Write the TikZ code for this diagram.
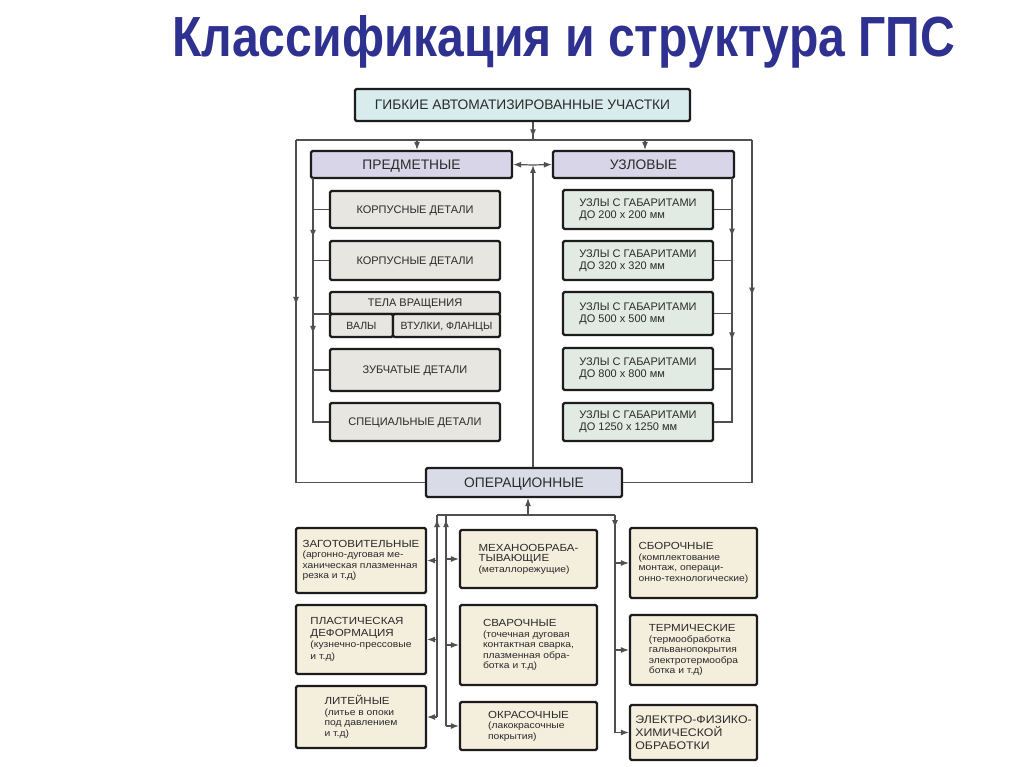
\documentclass[tikz,border=0pt]{standalone}
\usepackage{fontspec}
\setmainfont{Liberation Sans}
\newfontfamily\bfont[FakeStretch=1.12]{Liberation Sans}
\usetikzlibrary{arrows.meta,decorations.markings}
\definecolor{titleblue}{HTML}{2E3190}
\definecolor{boxline}{HTML}{1C1C1C}
\definecolor{txt}{HTML}{2A2A2A}
\definecolor{lineg}{HTML}{505050}
\definecolor{topfill}{HTML}{D8ECEE}
\definecolor{catfill}{HTML}{D9D5E8}
\definecolor{lfill}{HTML}{E7E6E1}
\definecolor{rfill}{HTML}{E2EBE3}
\definecolor{opfill}{HTML}{D9DCE6}
\definecolor{bfill}{HTML}{F4EEDD}
\newcommand\hd{\fontsize{10.3}{11}\selectfont}
\begin{document}
\begin{tikzpicture}[x=1pt,y=-1pt,
  box/.style={draw=boxline, line width=2.2pt, rounded corners=1.5pt, inner sep=0pt, text=txt, align=center},
  hdr/.style={box, text depth=0pt, font=\fontsize{13.8}{15}\selectfont},
  lbox/.style={box, fill=lfill, minimum width=170pt, text depth=0pt, font=\fontsize{11}{13}\selectfont},
  rbox/.style={box, fill=rfill, minimum width=150pt, align=left, font=\fontsize{11}{12}\selectfont},
  obox/.style={box, fill=bfill, align=left, font=\bfont\fontsize{9.2}{10.5}\selectfont},
  conn/.style={draw=lineg, line width=1.2pt},
  tip/.style={-{Latex[length=8pt,width=6pt]}},
  marr/.style={postaction={decorate},decoration={markings,mark=at position #1 with {\arrow{Latex[length=8pt,width=6pt]}}}},
  marrr/.style 2 args={postaction={decorate},decoration={markings,mark=at position #1 with {\arrow{Latex[length=8pt,width=6pt]}},mark=at position #2 with {\arrow{Latex[length=8pt,width=6pt]}}}}
]
\useasboundingbox[fill=white] (0,0) rectangle (1024,767);

% title
\node[anchor=base west, inner sep=0pt, text=titleblue] (title) at (172,57)
  {\resizebox{783pt}{41pt}{\bfseries Классификация и структура ГПС}};

% top level
\node[hdr, fill=topfill, minimum width=335pt, minimum height=32pt] (top) at (522.5,105) {ГИБКИЕ АВТОМАТИЗИРОВАННЫЕ УЧАСТКИ};
\node[hdr, fill=catfill, minimum width=201pt, minimum height=27pt] (pred) at (411.5,164.5) {ПРЕДМЕТНЫЕ};
\node[hdr, fill=catfill, minimum width=181pt, minimum height=27pt] (uzl) at (643.5,164.5) {УЗЛОВЫЕ};
\node[hdr, fill=opfill, minimum width=196pt, minimum height=29pt] (oper) at (524,482.5) {ОПЕРАЦИОННЫЕ};

% left details
\node[lbox, minimum height=37pt] (k1) at (415,209.5) {КОРПУСНЫЕ ДЕТАЛИ};
\node[lbox, minimum height=39pt] (k2) at (415,260.5) {КОРПУСНЫЕ ДЕТАЛИ};
\node[lbox, minimum height=22pt] (k3) at (415,303) {ТЕЛА ВРАЩЕНИЯ};
\node[box, fill=lfill, minimum width=63pt, minimum height=23pt, text depth=0pt, font=\fontsize{10.5}{12}\selectfont] (k3a) at (361.5,325.5) {ВАЛЫ};
\node[box, fill=lfill, minimum width=107pt, minimum height=23pt, text depth=0pt, font=\fontsize{10.5}{12}\selectfont] (k3b) at (446.5,325.5) {ВТУЛКИ, ФЛАНЦЫ};
\node[lbox, minimum height=42pt] (k4) at (415,370) {ЗУБЧАТЫЕ ДЕТАЛИ};
\node[lbox, minimum height=38pt] (k5) at (415,422) {СПЕЦИАЛЬНЫЕ ДЕТАЛИ};

% right details
\node[rbox, minimum height=39pt] (r1) at (638,209.5) {УЗЛЫ С ГАБАРИТАМИ\\ДО 200 х 200 мм};
\node[rbox, minimum height=39pt] (r2) at (638,260.5) {УЗЛЫ С ГАБАРИТАМИ\\ДО 320 х 320 мм};
\node[rbox, minimum height=43pt] (r3) at (638,313.5) {УЗЛЫ С ГАБАРИТАМИ\\ДО 500 х 500 мм};
\node[rbox, minimum height=42pt] (r4) at (638,369) {УЗЛЫ С ГАБАРИТАМИ\\ДО 800 х 800 мм};
\node[rbox, minimum height=38pt] (r5) at (638,422) {УЗЛЫ С ГАБАРИТАМИ\\ДО 1250 х 1250 мм};

% operational boxes
\node[obox, minimum width=130pt, minimum height=65pt] (zag) at (361,560.5)
  {{\hd ЗАГОТОВИТЕЛЬНЫЕ}\\(аргонно-дуговая ме-\\ханическая плазменная\\резка и т.д)};
\node[obox, minimum width=130pt, minimum height=69pt, font=\bfont\fontsize{9.2}{11.5}\selectfont] (pla) at (361,639.5)
  {{\hd ПЛАСТИЧЕСКАЯ}\\{\hd ДЕФОРМАЦИЯ}\\(кузнечно-прессовые\\и т.д)};
\node[obox, minimum width=130pt, minimum height=62pt] (lit) at (361,717)
  {{\hd ЛИТЕЙНЫЕ}\\(литье в опоки\\под давлением\\и т.д)};
\node[obox, minimum width=137pt, minimum height=58pt] (mex) at (528.5,559)
  {{\hd МЕХАНООБРАБА-}\\{\hd ТЫВАЮЩИЕ}\\(металлорежущие)};
\node[obox, minimum width=137pt, minimum height=80pt] (sva) at (528.5,645)
  {{\hd СВАРОЧНЫЕ}\\(точечная дуговая\\контактная сварка,\\плазменная обра-\\ботка и т.д)};
\node[obox, minimum width=137pt, minimum height=48pt] (okr) at (528.5,726)
  {{\hd ОКРАСОЧНЫЕ}\\(лакокрасочные\\покрытия)};
\node[obox, minimum width=127pt, minimum height=70pt] (sbo) at (693.5,563)
  {{\hd СБОРОЧНЫЕ}\\(комплектование\\монтаж, операци-\\онно-технологические)};
\node[obox, minimum width=127pt, minimum height=70pt] (ter) at (693.5,650)
  {{\hd ТЕРМИЧЕСКИЕ}\\(термообработка\\гальванопокрытия\\электротермообра\\ботка и т.д)};
\node[obox, minimum width=127pt, minimum height=55pt, font=\bfont\fontsize{11}{13}\selectfont] (ele) at (693.5,732.5)
  {ЭЛЕКТРО-ФИЗИКО-\\ХИМИЧЕСКОЙ\\ОБРАБОТКИ};

% coordinates
\coordinate (tb) at (533,140);
\coordinate (tl) at (296,140);
\coordinate (tr) at (752,140);
\coordinate (pa) at (417,140);
\coordinate (ua) at (645,140);
\coordinate (cm) at (533,165);
\coordinate (sLt) at (313,178);
\coordinate (sLb) at (313,422);
\coordinate (tj) at (330,314);
\coordinate (sRt) at (732,178);
\coordinate (sRb) at (732,422);
\coordinate (bL) at (437,515);
\coordinate (bM) at (446,515);
\coordinate (bR) at (615,515);
\coordinate (bC) at (528,515);

% upper connectors
\draw[conn, marr=0.85] (top.south -| tb) -- (tb);
\draw[conn] (tl) -- (tr);
\draw[conn, tip] (pa) -- (pa |- pred.north);
\draw[conn, tip] (ua) -- (ua |- uzl.north);
\draw[conn, marr=0.35] (tl) -- (tl |- oper.west) -- (oper.west);
\draw[conn, marr=0.33] (tr) -- (tr |- oper.east) -- (oper.east);
\draw[conn, tip] (oper.north -| cm) -- (cm);
\draw[conn, tip] (cm) -- (pred.east);
\draw[conn, tip] (cm) -- (uzl.west);

% left tree
\draw[conn, marrr={0.23}{0.60}] (sLt) -- (sLb) -- (k5.west);
\draw[conn] (sLt |- k1.west) -- (k1.west);
\draw[conn] (sLt |- k2.west) -- (k2.west);
\draw[conn] (sLt |- tj) -- (tj);
\draw[conn] (sLt |- k4.west) -- (k4.west);

% right tree
\draw[conn, marrr={0.224}{0.62}] (sRt) -- (sRb) -- (r5.east);
\draw[conn] (r1.east) -- (r1.east -| sRt);
\draw[conn] (r2.east) -- (r2.east -| sRt);
\draw[conn] (r3.east) -- (r3.east -| sRt);
\draw[conn] (r4.east) -- (r4.east -| sRt);

% lower connectors
\draw[conn] (bL) -- (bR);
\draw[conn, tip] (bC) -- (bC |- oper.south);
\draw[conn, marr=0.98] (bL |- lit.east) -- (bL);
\draw[conn, marr=0.98] (bM |- okr.west) -- (bM);
\draw[conn, marr=0.06] (bR) -- (bR |- ele.west);
\draw[conn, tip] (bL |- zag.east) -- (zag.east);
\draw[conn, tip] (bL |- pla.east) -- (pla.east);
\draw[conn, tip] (bL |- lit.east) -- (lit.east);
\draw[conn, tip] (bM |- mex.west) -- (mex.west);
\draw[conn, tip] (bM |- sva.west) -- (sva.west);
\draw[conn, tip] (bM |- okr.west) -- (okr.west);
\draw[conn, tip] (bR |- sbo.west) -- (sbo.west);
\draw[conn, tip] (bR |- ter.west) -- (ter.west);
\draw[conn, tip] (bR |- ele.west) -- (ele.west);
\end{tikzpicture}
\end{document}
